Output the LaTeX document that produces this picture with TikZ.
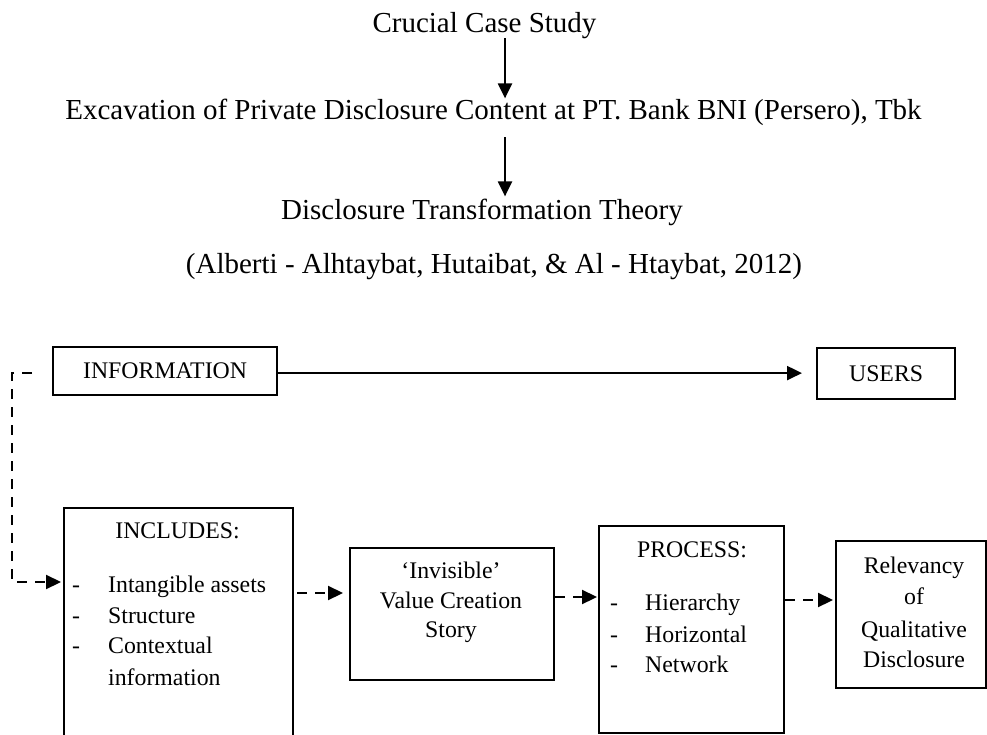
\documentclass[tikz,border=0pt]{standalone}
\usepackage{fontspec}
\setmainfont{Liberation Serif}
\usetikzlibrary{arrows.meta}
\begin{document}
\begin{tikzpicture}[x=1pt,y=-1pt,
  bigtext/.style={font=\fontsize{29}{34}\selectfont, inner sep=0pt, anchor=base},
  smalltext/.style={font=\fontsize{23.8}{30}\selectfont, inner sep=0pt, anchor=base},
  itemtext/.style={font=\fontsize{23.8}{30}\selectfont, inner sep=0pt, anchor=base west},
  boxnode/.style={draw, line width=2.2pt, inner sep=0pt, anchor=north west},
  solidarrow/.style={line width=2.2pt, -{Triangle[length=15pt,width=14pt]}},
  dasharrow/.style={line width=2.2pt, dash pattern=on 10pt off 8pt, -{Triangle[length=15pt,width=14pt]}}
]
\useasboundingbox (0,0) rectangle (987,735);
\clip (0,0) rectangle (987,735);

% top texts
\node[bigtext] (crucial) at (484.5,33) {Crucial Case Study};
\node[bigtext] (excav) at (493.5,120) {Excavation of Private Disclosure Content at PT. Bank BNI (Persero), Tbk};
\node[bigtext] (theory) at (482,220) {Disclosure Transformation Theory};
\node[bigtext] (cite) at (494,273) {(Alberti - Alhtaybat, Hutaibat, \& Al - Htaybat, 2012)};

\draw[solidarrow, shorten <=-1pt, shorten >=1pt] ([xshift=20.5pt]crucial.south) -- ([xshift=20.5pt]crucial.south |- excav.north);
\draw[solidarrow, shorten <=11pt, shorten >=3pt] ([xshift=11.5pt]excav.south) -- ([xshift=11.5pt]excav.south |- theory.north);

% information and users
\node[boxnode, minimum width=224pt, minimum height=48pt, font=\fontsize{23.8}{30}\selectfont] (info) at (52,346) {INFORMATION};
\node[boxnode, minimum width=138pt, minimum height=51pt, font=\fontsize{23.8}{30}\selectfont] (users) at (816,347) {USERS};
\draw[solidarrow, shorten >=14pt] ([yshift=-2pt]info.east) -- ([yshift=-2pt]info.east -| users.west);

% bottom boxes
\node[boxnode, minimum width=229pt, minimum height=260pt] (inc) at (63,507) {};
\node[boxnode, minimum width=204pt, minimum height=132pt] (inv) at (349,547) {};
\node[boxnode, minimum width=185pt, minimum height=207pt] (proc) at (598,525) {};
\node[boxnode, minimum width=150pt, minimum height=147pt] (rel) at (835,540) {};

% includes texts
\node[smalltext] (inchead) at (177.5,538) {INCLUDES:};
\node[itemtext] (incd1) at (72,592) {-};
\node[itemtext] (incd2) at (72,623) {-};
\node[itemtext] (incd3) at (72,653) {-};
\node[itemtext] (inct1) at (108,592) {Intangible assets};
\node[itemtext] (inct2) at (108,623) {Structure};
\node[itemtext] (inct3) at (108,653) {Contextual};
\node[itemtext] (inct4) at (108,685) {information};

% invisible texts
\node[smalltext] (inv1) at (451,578) {‘Invisible’};
\node[smalltext] (inv2) at (451,608) {Value Creation};
\node[smalltext] (inv3) at (451,637) {Story};

% process texts
\node[smalltext] (prochead) at (692,557) {PROCESS:};
\node[itemtext] (procd1) at (610,610) {-};
\node[itemtext] (procd2) at (610,642) {-};
\node[itemtext] (procd3) at (610,672) {-};
\node[itemtext] (proct1) at (645,610) {Hierarchy};
\node[itemtext] (proct2) at (645,642) {Horizontal};
\node[itemtext] (proct3) at (645,672) {Network};

% relevancy texts
\node[smalltext] (rel1) at (914,573) {Relevancy};
\node[smalltext] (rel2) at (914,604) {of};
\node[smalltext] (rel3) at (914,637) {Qualitative};
\node[smalltext] (rel4) at (914,667) {Disclosure};

% dashed connectors
\draw[dasharrow, shorten >=2pt] ([xshift=-20pt,yshift=-2pt]info.west) -- ++(-20,0) |- ([yshift=-75pt]inc.north west);
\draw[dasharrow, shorten <=3pt, shorten >=6pt] ([yshift=-86pt]inc.north east) -- ([yshift=-86pt]inc.north east -| inv.west);
\draw[dasharrow, shorten >=1pt] ([yshift=-50pt]inv.north east) -- ([yshift=-50pt]inv.north east -| proc.west);
\draw[dasharrow, shorten >=2pt] ([yshift=-75pt]proc.north east) -- ([yshift=-75pt]proc.north east -| rel.west);
\end{tikzpicture}
\end{document}
